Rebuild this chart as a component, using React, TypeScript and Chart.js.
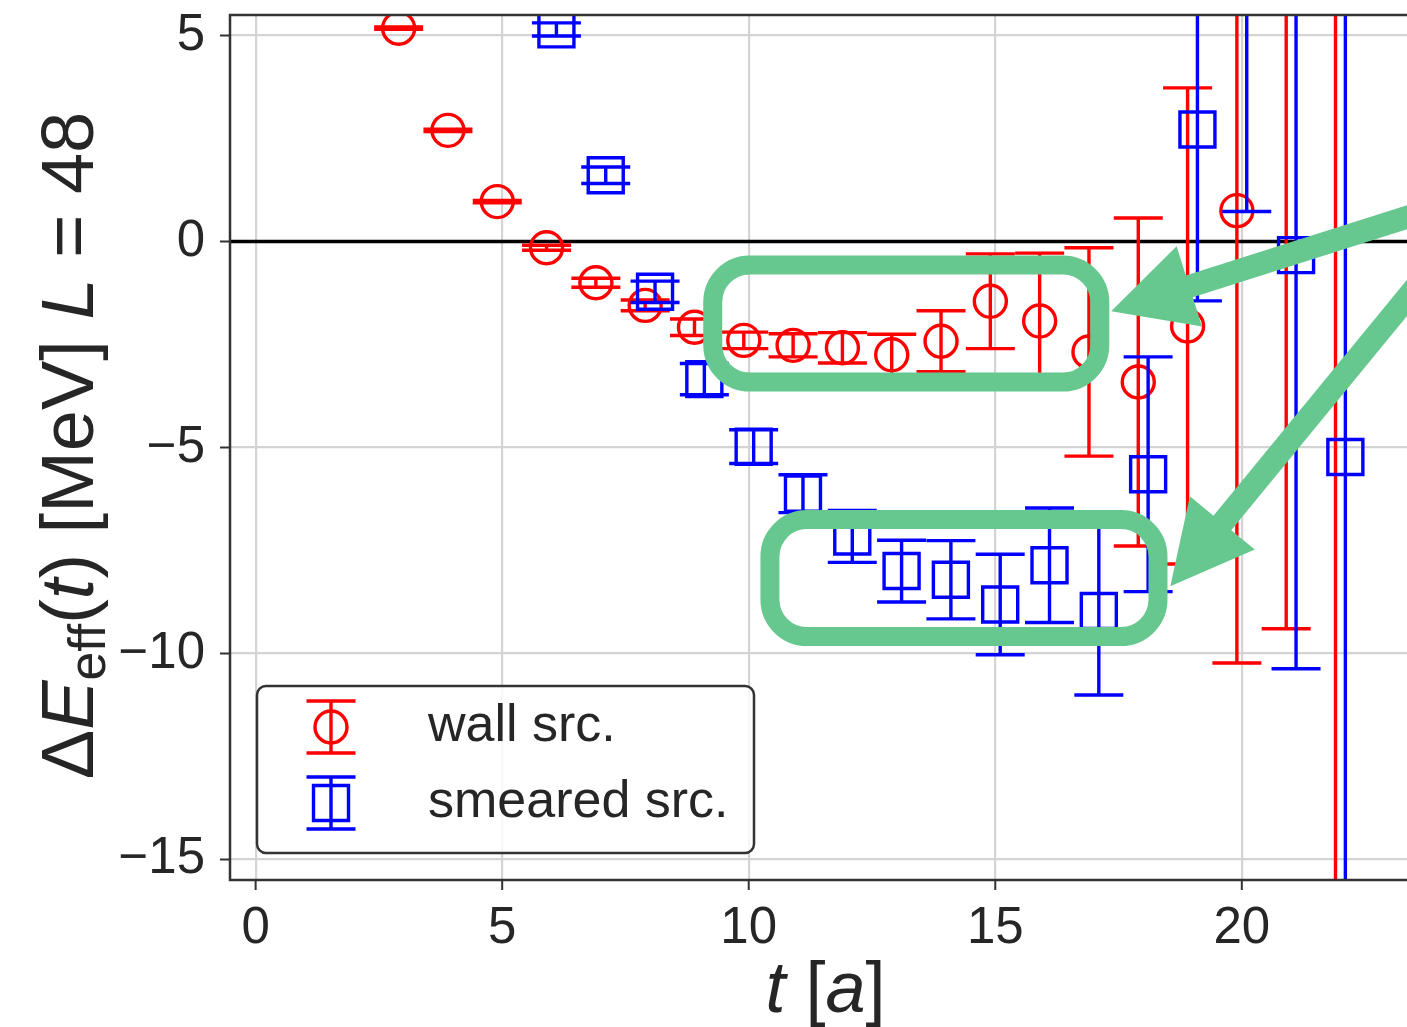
import React, { useEffect, useRef } from 'react';
import { Chart, registerables } from 'chart.js';

Chart.register(...registerables);

// Euclidean time slices (lattice units) and effective energy shifts [MeV]
const wallTimes = [3, 4, 5, 6, 7, 8, 9, 10, 11, 12, 13, 14, 15, 16, 17, 18, 19, 20, 21, 22];
const wallValues = [
  5.18, 2.7, 0.97, -0.15, -1.0, -1.55, -2.08, -2.4, -2.52, -2.58, -2.75, -2.42, -1.45, -1.93, -2.68,
  -3.41, -2.05, 0.75, 7.0, 12.0,
];
const wallErrors = [
  0.03, 0.03, 0.03, 0.06, 0.11, 0.13, 0.2, 0.2, 0.28, 0.37, 0.5, 0.74, 1.15, 1.65, 2.53, 3.98, 5.78,
  10.98, 16.4, 30.0,
];

const smearedTimes = [6, 7, 8, 9, 10, 11, 12, 13, 14, 15, 16, 17, 18, 19, 20, 21, 22];
const smearedValues = [
  5.15, 1.61, -1.22, -3.34, -4.98, -6.12, -7.16, -8.0, -8.21, -8.81, -7.86, -8.97, -5.65, 2.72, 9.0,
  -0.33, -5.23,
];
const smearedErrors = [
  0.16, 0.2, 0.26, 0.38, 0.41, 0.46, 0.63, 0.75, 0.95, 1.22, 1.39, 2.04, 2.85, 4.16, 8.27, 10.04, 14.0,
];

const seriesLabels = ['wall src.', 'smeared src.'];
const xTicks = [0, 5, 10, 15, 20];
const yTicks = [-15, -10, -5, 0, 5];

// small horizontal shifts so the two sources do not sit on top of each other
const WALL_SHIFT = -0.1;
const SMEARED_SHIFT = 0.1;

// highlight boxes and arrows, in data coordinates
const highlightBoxes = [
  { x0: 9.27, x1: 17.12, y0: -0.57, y1: -3.41 },
  { x0: 10.43, x1: 18.3, y0: -6.75, y1: -9.59 },
];
const highlightArrows = [
  { tipX: 17.35, tipY: -1.69, tailX: 24.22, tailY: 0.92 },
  { tipX: 18.55, tipY: -8.37, tailX: 24.22, tailY: -0.1 },
];

const FONT = "'Liberation Sans', Arial, Helvetica, sans-serif";
const INK = '#262626';
const SPINE = '#333333';
const GREEN = '#66c88e';
const RED = '#ff0000';
const BLUE = '#0000ff';
const BAR_W = 3.4;
const CAP = 24.5;

const fmtTick = (v: number) => (v < 0 ? '\u2212' + Math.abs(v) : String(v));

type Run = { text: string; italic?: boolean; sub?: boolean };

function drawRuns(ctx: CanvasRenderingContext2D, runs: Run[], size: number, startX: number, baseY: number) {
  let x = startX;
  for (const r of runs) {
    const s = r.sub ? size * 0.7 : size;
    ctx.font = `${r.italic ? 'italic ' : ''}${s}px ${FONT}`;
    ctx.fillText(r.text, x, baseY + (r.sub ? size * 0.16 : 0));
    x += ctx.measureText(r.text).width;
  }
}

function runsWidth(ctx: CanvasRenderingContext2D, runs: Run[], size: number) {
  let w = 0;
  for (const r of runs) {
    const s = r.sub ? size * 0.7 : size;
    ctx.font = `${r.italic ? 'italic ' : ''}${s}px ${FONT}`;
    w += ctx.measureText(r.text).width;
  }
  return w;
}

const yTitleRuns: Run[] = [
  { text: '\u0394' },
  { text: 'E', italic: true },
  { text: 'eff', sub: true },
  { text: '(' },
  { text: 't', italic: true },
  { text: ') [MeV] ' },
  { text: 'L', italic: true },
  { text: ' = 48' },
];
const xTitleRuns: Run[] = [
  { text: 't', italic: true },
  { text: ' [' },
  { text: 'a', italic: true },
  { text: ']' },
];

const errorBarPlugin = {
  id: 'errorBars',
  beforeDatasetsDraw(chart: any) {
    const { ctx, chartArea: a, scales } = chart;
    const y0 = scales.y.getPixelForValue(0);
    ctx.save();
    ctx.beginPath();
    ctx.rect(a.left, a.top, a.right - a.left, a.bottom - a.top);
    ctx.clip();
    ctx.strokeStyle = '#000000';
    ctx.lineWidth = 3.4;
    ctx.beginPath();
    ctx.moveTo(a.left, y0);
    ctx.lineTo(a.right, y0);
    ctx.stroke();
    ctx.restore();
  },
  beforeDatasetDraw(chart: any, args: any) {
    const { ctx, chartArea: a, scales } = chart;
    const ds = chart.data.datasets[args.index];
    ctx.save();
    ctx.beginPath();
    ctx.rect(a.left, a.top, a.right - a.left, a.bottom - a.top);
    ctx.clip();
    ctx.strokeStyle = ds.pointBorderColor;
    ctx.lineWidth = BAR_W;
    ctx.lineCap = 'butt';
    ds.data.forEach((p: { x: number; y: number }, j: number) => {
      const err = ds.errors[j];
      const px = scales.x.getPixelForValue(p.x);
      const top = scales.y.getPixelForValue(p.y + err);
      const bot = scales.y.getPixelForValue(p.y - err);
      ctx.beginPath();
      ctx.moveTo(px, top);
      ctx.lineTo(px, bot);
      ctx.moveTo(px - CAP, top);
      ctx.lineTo(px + CAP, top);
      ctx.moveTo(px - CAP, bot);
      ctx.lineTo(px + CAP, bot);
      ctx.stroke();
    });
    ctx.restore();
  },
};

const decorPlugin = {
  id: 'decor',
  afterDraw(chart: any) {
    const { ctx, chartArea: a, scales } = chart;
    ctx.save();

    // spines (top, left, bottom) and outward ticks
    ctx.strokeStyle = SPINE;
    ctx.lineWidth = 2.5;
    ctx.beginPath();
    ctx.moveTo(a.right + 5, a.top);
    ctx.lineTo(a.left, a.top);
    ctx.lineTo(a.left, a.bottom);
    ctx.lineTo(a.right + 5, a.bottom);
    ctx.stroke();
    ctx.lineWidth = 2;
    ctx.beginPath();
    for (const v of yTicks) {
      const py = scales.y.getPixelForValue(v);
      ctx.moveTo(a.left - 10, py);
      ctx.lineTo(a.left, py);
    }
    for (const v of xTicks) {
      const px = scales.x.getPixelForValue(v);
      ctx.moveTo(px, a.bottom);
      ctx.lineTo(px, a.bottom + 10);
    }
    ctx.stroke();

    // axis titles
    ctx.fillStyle = INK;
    ctx.textBaseline = 'alphabetic';
    ctx.textAlign = 'left';
    const xTitleSize = 72;
    const xw = runsWidth(ctx, xTitleRuns, xTitleSize);
    drawRuns(ctx, xTitleRuns, xTitleSize, (a.left + a.right) / 2 + 7 - xw / 2, a.bottom + 132);
    const yTitleSize = 74;
    const yw = runsWidth(ctx, yTitleRuns, yTitleSize);
    ctx.save();
    ctx.translate(93, (a.top + a.bottom) / 2 - 2);
    ctx.rotate(-Math.PI / 2);
    drawRuns(ctx, yTitleRuns, yTitleSize, -yw / 2, 0);
    ctx.restore();

    // legend
    const lx = a.left + 27;
    const ly = a.bottom - 194;
    ctx.beginPath();
    ctx.roundRect(lx, ly, 497, 167, 9);
    ctx.fillStyle = 'rgba(255,255,255,0.8)';
    ctx.fill();
    ctx.strokeStyle = SPINE;
    ctx.lineWidth = 2.5;
    ctx.stroke();
    const mx = lx + 74;
    const rows = [ly + 41, ly + 117];
    const colors = [RED, BLUE];
    rows.forEach((ry, i) => {
      ctx.strokeStyle = colors[i];
      ctx.lineWidth = BAR_W;
      ctx.beginPath();
      ctx.moveTo(mx, ry - 26);
      ctx.lineTo(mx, ry + 26);
      ctx.moveTo(mx - CAP, ry - 26);
      ctx.lineTo(mx + CAP, ry - 26);
      ctx.moveTo(mx - CAP, ry + 26);
      ctx.lineTo(mx + CAP, ry + 26);
      ctx.stroke();
      ctx.beginPath();
      if (i === 0) ctx.arc(mx, ry, 16, 0, Math.PI * 2);
      else ctx.rect(mx - 17.5, ry - 17.5, 35, 35);
      ctx.stroke();
      ctx.fillStyle = INK;
      ctx.font = `52px ${FONT}`;
      ctx.textBaseline = 'middle';
      ctx.fillText(seriesLabels[i], lx + 171, ry);
    });

    // green highlight boxes
    ctx.strokeStyle = GREEN;
    ctx.lineWidth = 19;
    for (const b of highlightBoxes) {
      const x0 = scales.x.getPixelForValue(b.x0);
      const x1 = scales.x.getPixelForValue(b.x1);
      const y0 = scales.y.getPixelForValue(b.y0);
      const y1 = scales.y.getPixelForValue(b.y1);
      ctx.beginPath();
      ctx.roundRect(x0, y0, x1 - x0, y1 - y0, 37);
      ctx.stroke();
    }

    // green arrows
    ctx.fillStyle = GREEN;
    for (const ar of highlightArrows) {
      const tx = scales.x.getPixelForValue(ar.tipX);
      const ty = scales.y.getPixelForValue(ar.tipY);
      const ex = scales.x.getPixelForValue(ar.tailX);
      const ey = scales.y.getPixelForValue(ar.tailY);
      const len = Math.hypot(ex - tx, ey - ty);
      const dx = (ex - tx) / len;
      const dy = (ey - ty) / len;
      const nx = -dy;
      const ny = dx;
      const headLen = 82;
      const headHalf = 42;
      const shaftHalf = 11.5;
      const bx = tx + dx * headLen;
      const by = ty + dy * headLen;
      ctx.beginPath();
      ctx.moveTo(tx, ty);
      ctx.lineTo(bx + nx * headHalf, by + ny * headHalf);
      ctx.lineTo(bx + nx * shaftHalf, by + ny * shaftHalf);
      ctx.lineTo(ex + nx * shaftHalf, ey + ny * shaftHalf);
      ctx.lineTo(ex - nx * shaftHalf, ey - ny * shaftHalf);
      ctx.lineTo(bx - nx * shaftHalf, by - ny * shaftHalf);
      ctx.lineTo(bx - nx * headHalf, by - ny * headHalf);
      ctx.closePath();
      ctx.fill();
    }

    ctx.restore();
  },
};

export default function App() {
  const canvasRef = useRef<HTMLCanvasElement>(null);

  useEffect(() => {
    const canvas = canvasRef.current;
    if (!canvas) return;
    const chart = new Chart(canvas, {
      type: 'scatter',
      data: {
        datasets: [
          {
            label: seriesLabels[0],
            data: wallTimes.map((t, i) => ({ x: t + WALL_SHIFT, y: wallValues[i] })),
            errors: wallErrors,
            pointStyle: 'circle',
            pointRadius: 16,
            pointHoverRadius: 16,
            pointBorderWidth: BAR_W,
            pointBorderColor: RED,
            pointBackgroundColor: 'rgba(0,0,0,0)',
            showLine: false,
            clip: 0,
            order: 2,
          } as any,
          {
            label: seriesLabels[1],
            data: smearedTimes.map((t, i) => ({ x: t + SMEARED_SHIFT, y: smearedValues[i] })),
            errors: smearedErrors,
            pointStyle: 'rect',
            pointRadius: 24.75,
            pointHoverRadius: 24.75,
            pointBorderWidth: BAR_W,
            pointBorderColor: BLUE,
            pointBackgroundColor: 'rgba(0,0,0,0)',
            showLine: false,
            clip: 0,
            order: 1,
          } as any,
        ],
      },
      options: {
        animation: false,
        responsive: false,
        events: [],
        layout: { autoPadding: false, padding: { top: 15, right: 0, bottom: 0, left: 0 } },
        plugins: { legend: { display: false }, tooltip: { enabled: false } },
        scales: {
          x: {
            type: 'linear',
            position: 'bottom',
            min: -0.52,
            max: 23.35,
            afterBuildTicks: (s: any) => {
              s.ticks = xTicks.map((v) => ({ value: v }));
            },
            afterFit: (s: any) => {
              s.height = 147;
              s.paddingLeft = 0;
              s.paddingRight = 0;
            },
            grid: { color: '#d4d4d4', lineWidth: 2.2, drawTicks: false },
            border: { display: false },
            ticks: {
              font: { family: FONT, size: 51 },
              color: INK,
              padding: 18,
              maxRotation: 0,
              autoSkip: false,
              callback: (v: any) => fmtTick(Number(v)),
            },
          },
          y: {
            type: 'linear',
            min: -15.5,
            max: 5.5,
            afterBuildTicks: (s: any) => {
              s.ticks = yTicks.map((v) => ({ value: v }));
            },
            afterFit: (s: any) => {
              s.width = 230;
              s.paddingTop = 0;
              s.paddingBottom = 0;
            },
            grid: { color: '#d4d4d4', lineWidth: 2.2, drawTicks: false },
            border: { display: false },
            ticks: {
              font: { family: FONT, size: 51 },
              color: INK,
              padding: 25,
              autoSkip: false,
              callback: (v: any) => fmtTick(Number(v)),
            },
          },
        },
      } as any,
      plugins: [errorBarPlugin, decorPlugin],
    });
    return () => chart.destroy();
  }, []);

  return (
    <div style={{ position: 'fixed', left: 0, top: 0, width: 1407, height: 1027, background: '#ffffff', overflow: 'hidden' }}>
      <canvas ref={canvasRef} width={1407} height={1027} style={{ display: 'block', width: 1407, height: 1027 }} />
    </div>
  );
}
